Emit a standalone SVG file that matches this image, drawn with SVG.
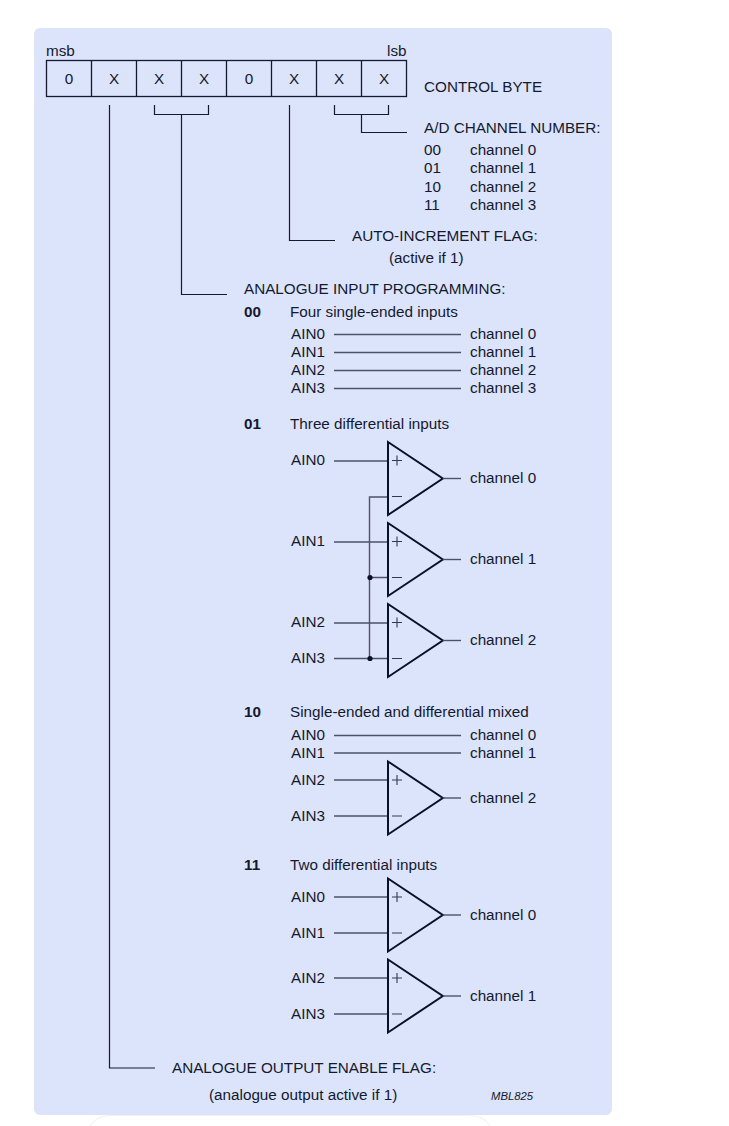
<svg xmlns="http://www.w3.org/2000/svg" xmlns:xlink="http://www.w3.org/1999/xlink" width="729" height="1126" viewBox="0 0 729 1126">
<style>
text{font-family:"Liberation Sans",Arial,sans-serif;font-size:15.25px;fill:#14192e}
.b{font-weight:700}
.c{text-anchor:middle}
.i{font-size:11.3px;font-style:italic}
.l{fill:none;stroke:#14192e;stroke-width:1.2}
.g{fill:none;stroke:#4d5268;stroke-width:1.4}
.t{fill:none;stroke:#0b0f2a;stroke-width:2;stroke-linejoin:miter}
.s{fill:none;stroke:#33384f;stroke-width:1.1}
</style>
<defs>
<g id="amp">
<path class="t" d="M388 -36.500L442.800 0L388 36.500Z"/>
<path class="s" d="M392 -18H402M397 -23V-13M392 18H402"/>
<path class="g" d="M442.800 0H461"/>
</g>
</defs>
<rect x="0" y="0" width="729" height="1126" fill="#ffffff"/>
<path d="M90 1126Q96 1116 110 1115.500H470Q484 1116 490 1126" fill="none" stroke="#f2f2f2"/>
<rect id="panel" x="34" y="28" width="578" height="1087" rx="6" fill="#dce4fc"/>
<g id="control-byte">
<rect x="46.500" y="60.500" width="360" height="36" fill="none" stroke="#14192e" stroke-width="1.300"/>
<path d="M91.500 60.500V96.500M136.500 60.500V96.500M181.500 60.500V96.500M226.500 60.500V96.500M271.500 60.500V96.500M316.500 60.500V96.500M361.500 60.500V96.500" fill="none" stroke="#14192e" stroke-width="1.300"/>
<text x="46" y="56">msb</text><text x="387" y="56">lsb</text>
<text class="c" x="69" y="84">0</text><text class="c" x="114" y="84">X</text><text class="c" x="159" y="84">X</text><text class="c" x="204" y="84">X</text><text class="c" x="249" y="84">0</text><text class="c" x="294" y="84">X</text><text class="c" x="339" y="84">X</text><text class="c" x="384" y="84">X</text>
<text x="424" y="92">CONTROL BYTE</text>
</g>
<g id="connectors">
<path class="l" d="M109.500 105V1068H155"/>
<path class="l" d="M154.500 105V114.500H208.500V105M181.500 114.500V294.500H227"/>
<path class="l" d="M289.500 105V240.500H335"/>
<path class="l" d="M334.500 105V114.500H388.500V105M361.500 114.500V132.500H407"/>
</g>
<g id="channel-number">
<text x="424" y="133">A/D CHANNEL NUMBER:</text>
<text x="424" y="155">00</text><text x="470" y="155">channel 0</text>
<text x="424" y="173">01</text><text x="470" y="173">channel 1</text>
<text x="424" y="192">10</text><text x="470" y="192">channel 2</text>
<text x="424" y="210">11</text><text x="470" y="210">channel 3</text>
</g>
<g id="auto-increment">
<text x="352" y="241">AUTO-INCREMENT FLAG:</text>
<text x="389" y="263">(active if 1)</text>
</g>
<text x="244" y="294">ANALOGUE INPUT PROGRAMMING:</text>
<g id="mode-00">
<text class="b" x="244" y="317">00</text><text x="290" y="317">Four single-ended inputs</text>
<text x="291" y="339">AIN0</text><text x="291" y="357">AIN1</text><text x="291" y="375">AIN2</text><text x="291" y="393">AIN3</text>
<text x="470" y="339">channel 0</text><text x="470" y="357">channel 1</text><text x="470" y="375">channel 2</text><text x="470" y="393">channel 3</text>
<path class="g" d="M334 334.500H461M334 352.500H461M334 370.500H461M334 388.500H461"/>
</g>
<g id="mode-01">
<text class="b" x="244" y="429">01</text><text x="290" y="429">Three differential inputs</text>
<text x="291" y="465">AIN0</text><text x="291" y="546">AIN1</text><text x="291" y="627">AIN2</text><text x="291" y="663">AIN3</text>
<text x="470" y="483">channel 0</text><text x="470" y="564">channel 1</text><text x="470" y="645">channel 2</text>
<path class="g" d="M334 461H388M334 542H388M334 623H388M334 658.500H388M388 497H369.500V658.500M369.500 577.500H388"/>
<circle cx="370" cy="577.500" r="2.600" fill="#0b0f2a"/><circle cx="370" cy="658.500" r="2.600" fill="#0b0f2a"/>
<use xlink:href="#amp" href="#amp" y="478.500"/><use xlink:href="#amp" href="#amp" y="559.500"/><use xlink:href="#amp" href="#amp" y="640.500"/>
</g>
<g id="mode-10">
<text class="b" x="244" y="717">10</text><text x="290" y="717">Single-ended and differential mixed</text>
<text x="291" y="740">AIN0</text><text x="291" y="758">AIN1</text><text x="291" y="785">AIN2</text><text x="291" y="821">AIN3</text>
<text x="470" y="740">channel 0</text><text x="470" y="758">channel 1</text><text x="470" y="803">channel 2</text>
<path class="g" d="M334 735.500H461M334 753H461M334 780H388M334 816H388"/>
<use xlink:href="#amp" href="#amp" y="798"/>
</g>
<g id="mode-11">
<text class="b" x="244" y="870">11</text><text x="290" y="870">Two differential inputs</text>
<text x="291" y="902">AIN0</text><text x="291" y="938">AIN1</text><text x="291" y="983">AIN2</text><text x="291" y="1019">AIN3</text>
<text x="470" y="920">channel 0</text><text x="470" y="1001">channel 1</text>
<path class="g" d="M334 897H388M334 933H388M334 978H388M334 1014H388"/>
<use xlink:href="#amp" href="#amp" y="915"/><use xlink:href="#amp" href="#amp" y="996"/>
</g>
<g id="output-enable">
<text x="172" y="1073">ANALOGUE OUTPUT ENABLE FLAG:</text>
<text x="209" y="1100">(analogue output active if 1)</text>
<text class="i" x="491" y="1100">MBL825</text>
</g>
</svg>
